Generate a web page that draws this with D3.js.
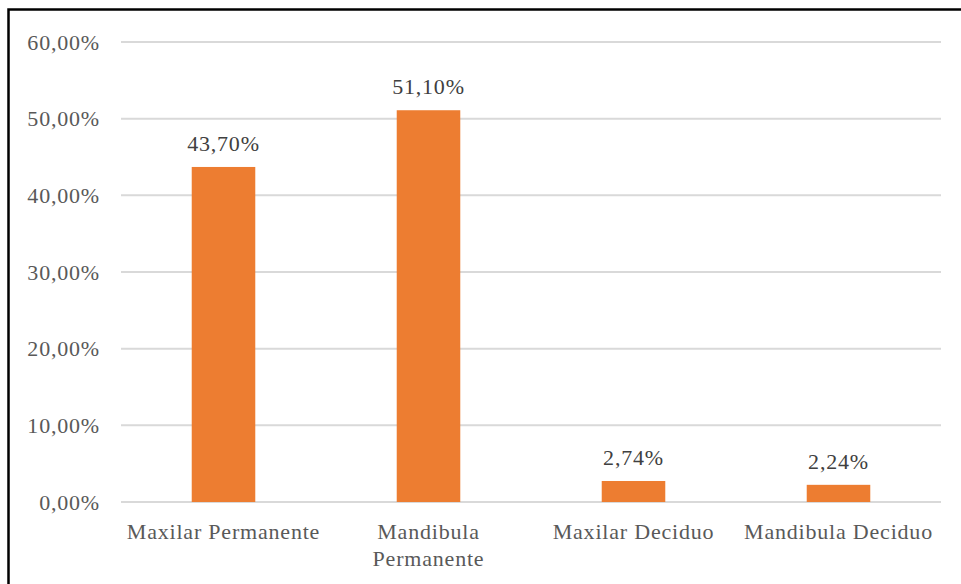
<!DOCTYPE html>
<html>
<head>
<meta charset="utf-8">
<script src="https://cdn.jsdelivr.net/npm/d3@7"></script>
<style>
  html, body { margin: 0; padding: 0; background: #fff; }
  svg { display: block; }
</style>
</head>
<body>
<svg id="chart" width="961" height="584"></svg>
<script>
const categories = ["Maxilar Permanente", "Mandibula Permanente", "Maxilar Deciduo", "Mandibula Deciduo"];
const values = [43.70, 51.10, 2.74, 2.24];
const valueLabels = ["43,70%", "51,10%", "2,74%", "2,24%"];
const yTicks = [0, 10, 20, 30, 40, 50, 60];
const yTickLabels = ["0,00%", "10,00%", "20,00%", "30,00%", "40,00%", "50,00%", "60,00%"];

const svg = d3.select("#chart");
const W = 961, H = 584;
const m = { left: 121, right: 20, top: 42, bottom: 82 };
const font = "'Liberation Serif', 'Times New Roman', serif";

svg.append("rect").attr("width", W).attr("height", H).attr("fill", "#fff");

// border (only top and left visible)
svg.append("rect")
  .attr("x", 8.5).attr("y", 9.5)
  .attr("width", 1100).attr("height", 1100)
  .attr("fill", "none").attr("stroke", "#000").attr("stroke-width", 2.5);

const x = d3.scaleBand().domain(categories).range([m.left, W - m.right]).paddingInner(0.69).paddingOuter(0.345);
const y = d3.scaleLinear().domain([0, 60]).range([H - m.bottom, m.top]);

// gridlines
svg.append("g").selectAll("line").data(yTicks).join("line")
  .attr("x1", m.left).attr("x2", W - m.right)
  .attr("y1", d => y(d)).attr("y2", d => y(d))
  .attr("stroke", "#d9d9d9").attr("stroke-width", 2);

// y axis labels
const yAxis = d3.axisLeft(y).tickValues(yTicks).tickSize(0).tickPadding(21)
  .tickFormat((d, i) => yTickLabels[i]);
const yg = svg.append("g").attr("transform", `translate(${m.left},0)`).call(yAxis);
yg.select(".domain").remove();
yg.selectAll("text")
  .attr("font-family", font).attr("font-size", 22).attr("letter-spacing", 0.8)
  .attr("fill", "#595959").attr("dy", "0.32em");

// bars
svg.append("g").selectAll("rect").data(values).join("rect")
  .attr("x", (d, i) => x(categories[i]))
  .attr("width", x.bandwidth())
  .attr("y", d => y(d))
  .attr("height", d => y(0) - y(d))
  .attr("fill", "#ED7D31");

// value labels
svg.append("g").selectAll("text").data(values).join("text")
  .attr("x", (d, i) => x(categories[i]) + x.bandwidth() / 2)
  .attr("y", d => y(d) - 16)
  .attr("text-anchor", "middle")
  .attr("font-family", font).attr("font-size", 22).attr("letter-spacing", 0.8)
  .attr("fill", "#404040")
  .text((d, i) => valueLabels[i]);

// category labels with wrapping
const step = x.step();
const xg = svg.append("g");
categories.forEach(c => {
  const t = xg.append("text")
    .attr("x", x(c) + x.bandwidth() / 2)
    .attr("y", y(0) + 37)
    .attr("text-anchor", "middle")
    .attr("font-family", font).attr("font-size", 22).attr("letter-spacing", 0.8)
    .attr("fill", "#595959");
  const words = c.split(" ");
  let line = [], lineNo = 0;
  let tspan = t.append("tspan").attr("x", x(c) + x.bandwidth() / 2).attr("dy", 0);
  words.forEach(w => {
    line.push(w);
    tspan.text(line.join(" "));
    if (tspan.node().getComputedTextLength() > step && line.length > 1) {
      line.pop();
      tspan.text(line.join(" "));
      line = [w];
      lineNo++;
      tspan = t.append("tspan").attr("x", x(c) + x.bandwidth() / 2).attr("dy", 27).text(w);
    }
  });
});
</script>
</body>
</html>
